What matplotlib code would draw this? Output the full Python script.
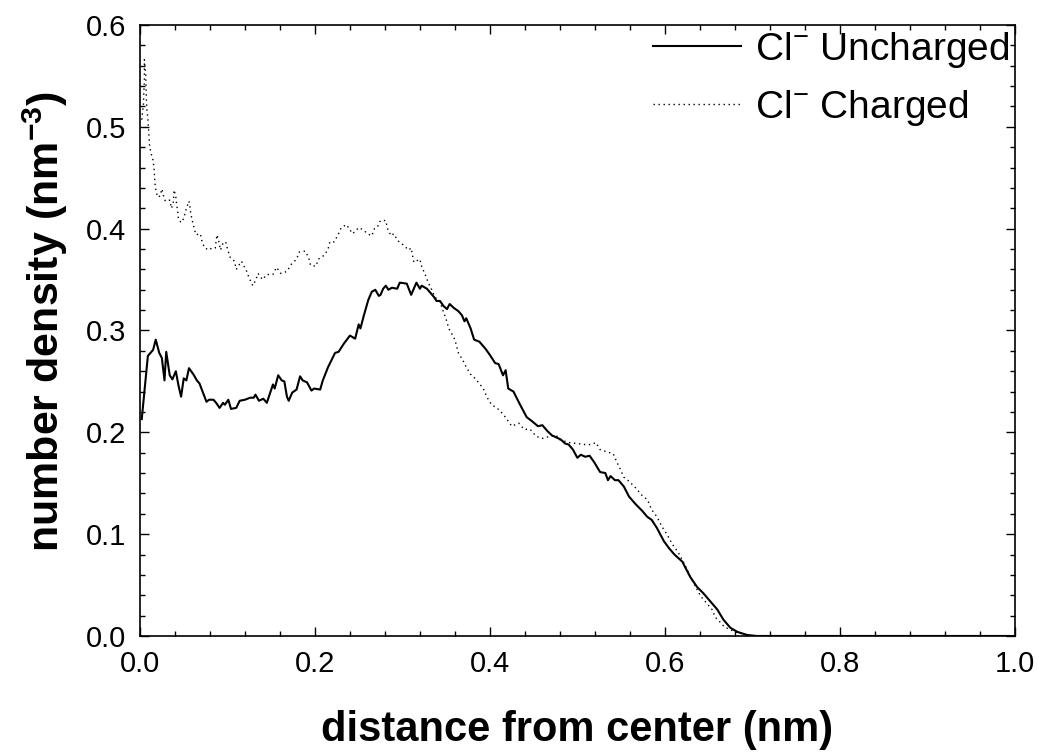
import numpy as np
import matplotlib
matplotlib.use('Agg')
import matplotlib.pyplot as plt
from matplotlib.ticker import MultipleLocator, FormatStrFormatter

plt.rcParams['font.family'] = ['Liberation Sans', 'DejaVu Sans']
plt.rcParams['mathtext.fontset'] = 'custom'
plt.rcParams['mathtext.rm'] = 'Liberation Sans'
plt.rcParams['mathtext.bf'] = 'Liberation Sans:bold'

# Cl- uncharged (solid)
unch_x = [0.002, 0.009, 0.015, 0.018, 0.022, 0.025, 0.028, 0.030, 0.034, 0.037,
          0.041, 0.044, 0.047, 0.050, 0.053, 0.056, 0.061, 0.065, 0.068, 0.072,
          0.076, 0.079, 0.084, 0.087, 0.091, 0.095, 0.097, 0.101, 0.104, 0.110,
          0.114, 0.120, 0.126, 0.130, 0.132, 0.136, 0.141, 0.145, 0.152, 0.154,
          0.158, 0.162, 0.165, 0.168, 0.170, 0.174, 0.179, 0.183, 0.186, 0.191,
          0.196, 0.199, 0.206, 0.209, 0.215, 0.223, 0.227, 0.233, 0.240, 0.246,
          0.250, 0.252, 0.256, 0.261, 0.265, 0.269, 0.273, 0.275, 0.278, 0.281,
          0.284, 0.288, 0.294, 0.297, 0.305, 0.310, 0.313, 0.316, 0.320, 0.322,
          0.328, 0.332, 0.336, 0.339, 0.343, 0.347, 0.351, 0.354, 0.359, 0.364,
          0.368, 0.371, 0.373, 0.378, 0.382, 0.388, 0.395, 0.400, 0.406, 0.410,
          0.415, 0.418, 0.421, 0.427, 0.434, 0.442, 0.448, 0.455, 0.460, 0.466,
          0.471, 0.481, 0.486, 0.490, 0.495, 0.500, 0.504, 0.509, 0.514, 0.519,
          0.526, 0.532, 0.535, 0.538, 0.543, 0.547, 0.553, 0.559, 0.566, 0.574,
          0.580, 0.585, 0.591, 0.599, 0.605, 0.611, 0.620, 0.629, 0.637, 0.644,
          0.652, 0.660, 0.667, 0.675, 0.683, 0.694, 0.705, 0.800, 0.900, 1.000]
unch_y = [0.213, 0.275, 0.281, 0.291, 0.278, 0.273, 0.251, 0.279, 0.256, 0.252,
          0.260, 0.246, 0.235, 0.253, 0.251, 0.263, 0.257, 0.251, 0.248, 0.239,
          0.230, 0.232, 0.232, 0.229, 0.224, 0.229, 0.227, 0.232, 0.223, 0.224,
          0.231, 0.232, 0.234, 0.234, 0.237, 0.231, 0.233, 0.229, 0.247, 0.243,
          0.256, 0.251, 0.250, 0.235, 0.231, 0.239, 0.242, 0.255, 0.251, 0.249,
          0.241, 0.243, 0.242, 0.251, 0.264, 0.278, 0.279, 0.287, 0.295, 0.292,
          0.306, 0.302, 0.315, 0.330, 0.338, 0.340, 0.334, 0.335, 0.341, 0.344,
          0.340, 0.342, 0.341, 0.347, 0.346, 0.335, 0.341, 0.347, 0.341, 0.344,
          0.341, 0.337, 0.333, 0.329, 0.329, 0.324, 0.321, 0.326, 0.322, 0.319,
          0.315, 0.309, 0.312, 0.302, 0.291, 0.289, 0.282, 0.276, 0.268, 0.267,
          0.256, 0.261, 0.243, 0.240, 0.228, 0.215, 0.211, 0.206, 0.207, 0.201,
          0.197, 0.193, 0.189, 0.188, 0.183, 0.175, 0.178, 0.176, 0.177, 0.171,
          0.161, 0.160, 0.153, 0.157, 0.153, 0.153, 0.147, 0.137, 0.130, 0.123,
          0.117, 0.114, 0.106, 0.093, 0.086, 0.080, 0.073, 0.058, 0.048, 0.042,
          0.034, 0.026, 0.016, 0.008, 0.004, 0.001, 0.000, 0.000, 0.000, 0.000]

# Cl- charged (dotted)
ch_x = [0.002, 0.003, 0.004, 0.0045, 0.005, 0.005, 0.005, 0.0065, 0.007, 0.0075,
        0.008, 0.009, 0.010, 0.011, 0.013, 0.015, 0.016, 0.0165, 0.017, 0.018,
        0.020, 0.023, 0.025, 0.027, 0.029, 0.034, 0.036, 0.038, 0.039, 0.041,
        0.042, 0.043, 0.044, 0.047, 0.050, 0.053, 0.056, 0.057, 0.058, 0.060,
        0.062, 0.064, 0.069, 0.071, 0.074, 0.079, 0.082, 0.086, 0.088, 0.090,
        0.092, 0.095, 0.098, 0.100, 0.103, 0.108, 0.110, 0.116, 0.122, 0.125,
        0.129, 0.132, 0.135, 0.140, 0.145, 0.152, 0.156, 0.161, 0.168, 0.173,
        0.179, 0.182, 0.189, 0.193, 0.195, 0.201, 0.204, 0.207, 0.211, 0.215,
        0.217, 0.222, 0.227, 0.230, 0.236, 0.240, 0.243, 0.250, 0.255, 0.260,
        0.265, 0.268, 0.271, 0.275, 0.281, 0.283, 0.287, 0.290, 0.295, 0.301,
        0.307, 0.310, 0.313, 0.320, 0.322, 0.326, 0.330, 0.332, 0.337, 0.343,
        0.347, 0.350, 0.353, 0.357, 0.360, 0.364, 0.369, 0.373, 0.378, 0.383,
        0.388, 0.393, 0.397, 0.402, 0.408, 0.415, 0.421, 0.425, 0.433, 0.439,
        0.446, 0.453, 0.460, 0.468, 0.476, 0.479, 0.490, 0.500, 0.509, 0.516,
        0.521, 0.526, 0.533, 0.541, 0.545, 0.549, 0.553, 0.559, 0.566, 0.574,
        0.580, 0.585, 0.591, 0.597, 0.603, 0.608, 0.616, 0.624, 0.631, 0.641,
        0.648, 0.654, 0.658, 0.664, 0.668, 0.675, 0.681, 0.690, 0.700, 0.800,
        0.900, 1.000]
ch_y = [0.507, 0.515, 0.523, 0.536, 0.545, 0.558, 0.566, 0.551, 0.537, 0.523,
        0.516, 0.508, 0.494, 0.481, 0.473, 0.467, 0.459, 0.453, 0.445, 0.439,
        0.431, 0.432, 0.439, 0.432, 0.427, 0.428, 0.420, 0.425, 0.438, 0.431,
        0.423, 0.417, 0.409, 0.406, 0.410, 0.420, 0.427, 0.422, 0.415, 0.407,
        0.400, 0.394, 0.395, 0.387, 0.381, 0.379, 0.381, 0.381, 0.394, 0.388,
        0.379, 0.386, 0.387, 0.380, 0.372, 0.368, 0.360, 0.368, 0.358, 0.351,
        0.344, 0.349, 0.356, 0.350, 0.355, 0.355, 0.362, 0.356, 0.358, 0.365,
        0.370, 0.377, 0.378, 0.371, 0.364, 0.363, 0.370, 0.372, 0.374, 0.380,
        0.387, 0.387, 0.395, 0.401, 0.404, 0.399, 0.395, 0.401, 0.399, 0.395,
        0.393, 0.400, 0.401, 0.408, 0.408, 0.400, 0.393, 0.395, 0.388, 0.384,
        0.379, 0.381, 0.367, 0.370, 0.363, 0.355, 0.346, 0.343, 0.333, 0.328,
        0.318, 0.311, 0.302, 0.296, 0.291, 0.278, 0.271, 0.264, 0.257, 0.253,
        0.248, 0.242, 0.234, 0.227, 0.224, 0.218, 0.211, 0.206, 0.209, 0.203,
        0.203, 0.196, 0.194, 0.196, 0.197, 0.193, 0.190, 0.189, 0.188, 0.188,
        0.190, 0.183, 0.181, 0.179, 0.171, 0.164, 0.156, 0.152, 0.146, 0.138,
        0.134, 0.124, 0.117, 0.107, 0.099, 0.091, 0.081, 0.068, 0.055, 0.039,
        0.032, 0.026, 0.018, 0.013, 0.009, 0.006, 0.004, 0.002, 0.000, 0.000,
        0.000, 0.000]

labels = [r'Cl$^{-}$ Uncharged', r'Cl$^{-}$ Charged']

fig = plt.figure(figsize=(10.37, 7.53), dpi=100)
ax = fig.add_axes([0.135, 0.1554, 0.8435, 0.8114])

ax.plot(unch_x, unch_y, color='black', lw=1.5, label=labels[0])
ax.plot(ch_x, ch_y, color='black', lw=1.0, linestyle=(0, (1, 2.6)), label=labels[1])

ax.set_xlim(0, 1.0)
ax.set_ylim(0, 0.6)
ax.xaxis.set_major_locator(MultipleLocator(0.2))
ax.xaxis.set_minor_locator(MultipleLocator(0.04))
ax.yaxis.set_major_locator(MultipleLocator(0.1))
ax.yaxis.set_minor_locator(MultipleLocator(0.02))
ax.tick_params(which='both', direction='in', top=True, right=True, width=1.0,
               labelsize=21)
ax.tick_params(which='major', length=6.5)
ax.tick_params(which='minor', length=3.6)
ax.tick_params(axis='x', which='major', pad=10)
ax.tick_params(axis='y', which='major', pad=10)
ax.xaxis.set_major_formatter(FormatStrFormatter('%.1f'))
ax.yaxis.set_major_formatter(FormatStrFormatter('%.1f'))
for s in ax.spines.values():
    s.set_linewidth(1.2)

ax.set_xlabel('distance from center (nm)', fontsize=30, fontweight='bold',
              va='center')
ax.xaxis.set_label_coords(0.5, -0.154)
ax.set_ylabel(r'number density (nm$^{\mathbf{-3}}$)', fontsize=31,
              fontweight='bold', va='center', ha='center')
ax.yaxis.set_label_coords(-0.108, 0.515)

ax.legend(loc='upper left', bbox_to_anchor=(653 / 1037, 1 - 30 / 753),
          bbox_transform=fig.transFigure, frameon=False, fontsize=28,
          handlelength=2.26, handletextpad=0.36, labelspacing=0.45, borderpad=0,
          borderaxespad=0)

fig.savefig('out.png', dpi=100)
